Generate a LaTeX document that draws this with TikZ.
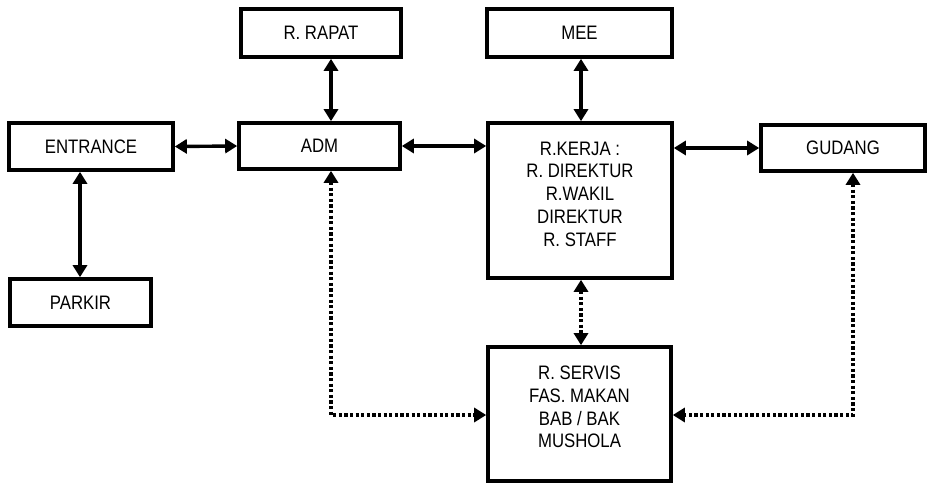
\documentclass[tikz,border=0pt]{standalone}
\usepackage{fontspec}
\setmainfont{Liberation Sans}[FakeStretch=0.86]
\usetikzlibrary{arrows.meta,calc}
\begin{document}
\begin{tikzpicture}[x=1pt,y=1pt,
  box/.style={draw,line width=3.6pt,rectangle,inner sep=0pt,
    font=\fontsize{19.5}{22.8}\selectfont,align=center},
  txt/.style={inner sep=0pt,font=\fontsize{19.5}{22.8}\selectfont,align=center},
  link/.style={line width=3.4pt,{Triangle[length=12pt,width=14pt]}-{Triangle[length=12pt,width=14pt]}},
  dlink/.style={link,dash pattern=on 3.2pt off 2.4pt}]
\useasboundingbox (0,0) rectangle (935,-484);

% rooms
\node[box,minimum width=164,minimum height=47] (ent)    at (91,-146.5)  {ENTRANCE};
\node[box,minimum width=141,minimum height=47] (park)   at (80.5,-302.5) {PARKIR};
\node[box,minimum width=161,minimum height=46] (adm)    at (319.5,-146) {ADM};
\node[box,minimum width=160,minimum height=48] (rapat)  at (321,-33)    {R. RAPAT};
\node[box,minimum width=185,minimum height=48] (mee)    at (579.5,-33)  {MEE};
\node[box,minimum width=184,minimum height=155] (kerja) at (580,-200.5) {};
\node[txt] (kerjatext) at (580,-194)
  {R.KERJA :\\R. DIREKTUR\\R.WAKIL\\DIREKTUR\\R. STAFF};
\node[box,minimum width=164,minimum height=46] (gudang) at (843,-148)   {GUDANG};
\node[box,minimum width=183,minimum height=134] (servis) at (579.5,-414) {};
\node[txt] (servistext) at (579.5,-407)
  {R. SERVIS\\FAS. MAKAN\\BAB / BAK\\MUSHOLA};

% guide columns and row for the connectors
\coordinate (colP) at (80,0);
\coordinate (colA) at (331,0);
\coordinate (colB) at (581,0);
\coordinate (colC) at (853,0);
\coordinate (rowS) at (0,-415);

% solid links
\draw[link] (ent.east) -- (adm.west);
\draw[link] (ent.south -| colP) -- (park.north -| colP);
\draw[link] (rapat.south -| colA) -- (adm.north -| colA);
\draw[link] (adm.east) -- (kerja.west |- adm.east);
\draw[link] (mee.south -| colB) -- (kerja.north -| colB);
\draw[link] (kerja.east |- gudang.west) -- (gudang.west);

% dotted links
\draw[dlink] (kerja.south -| colB) -- (servis.north -| colB);
\draw[dlink] (adm.south -| colA) -- (colA |- rowS) -- (servis.west |- rowS);
\draw[dlink] (gudang.south -| colC) -- (colC |- rowS) -- (servis.east |- rowS);
\end{tikzpicture}
\end{document}
